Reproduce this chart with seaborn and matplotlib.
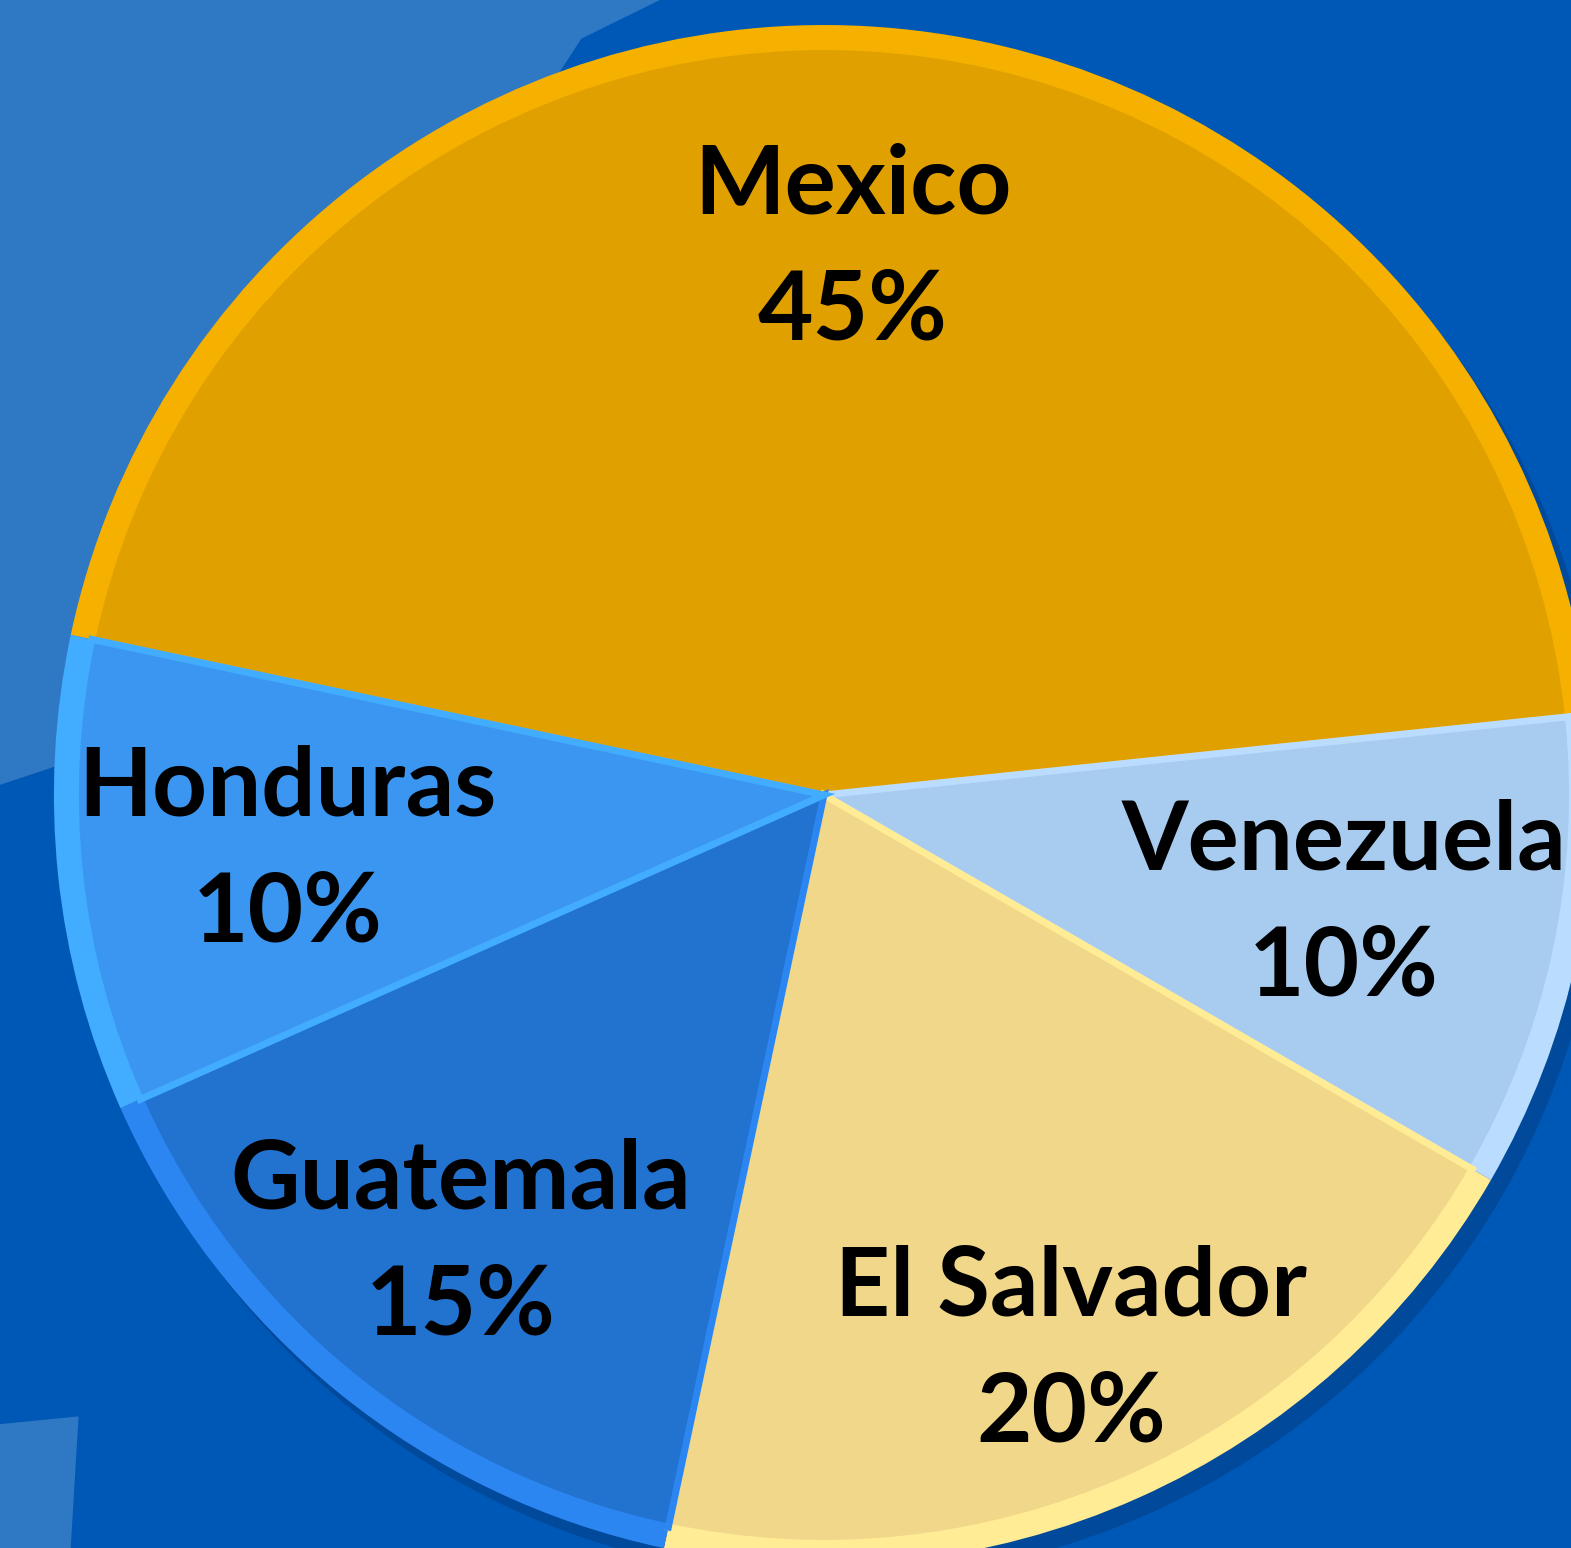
import seaborn as sns
import matplotlib.pyplot as plt
from matplotlib.patches import Polygon
import numpy as np

# Data
countries = ['Mexico', 'Venezuela', 'El Salvador', 'Guatemala', 'Honduras']
shares = [45, 10, 20, 15, 10]

# Colours: main face and lighter bevel rim for each slice
face_colors = ['#E0A000', '#A8CBF0', '#F0D78A', '#2272D0', '#3A96F0']
rim_colors = ['#F5B000', '#BADDFF', '#FFEC95', '#2C86F2', '#42ACFF']
label_r = [0.71, 0.69, 0.79, 0.75, 0.70]

sns.set_theme(style='white')
plt.rcParams['font.family'] = ['Lato', 'DejaVu Sans']

fig = plt.figure(figsize=(15.71, 15.48), dpi=100)
fig.patch.set_facecolor('#0058B6')

# lighter "map" patches in the background
fig.patches.append(Polygon([[0, 1], [0.42, 1], [0.37, 0.975], [0.08, 0.52],
                            [0.0, 0.493]], closed=True, transform=fig.transFigure,
                           facecolor='#2F78C4', edgecolor='none', zorder=-5))
fig.patches.append(Polygon([[0, 0.08], [0.05, 0.085], [0.045, 0.0], [0, 0]],
                           closed=True, transform=fig.transFigure,
                           facecolor='#2F78C4', edgecolor='none', zorder=-5))

ax = fig.add_axes([0, 0, 1, 1])
ax.set_facecolor('none')
ax.set_zorder(1)

# soft shadow
ax.pie(shares, radius=1.0, colors=['#00408A'] * len(shares), center=(0.015, -0.02),
       startangle=168, counterclock=False, wedgeprops=dict(linewidth=0, alpha=0.6))

# rim layer
ax.pie(shares, radius=1.0, colors=rim_colors, startangle=168, counterclock=False,
       wedgeprops=dict(linewidth=0))
# face layer
wedges, _ = ax.pie(shares, radius=0.972, colors=face_colors, startangle=168,
                   counterclock=False, wedgeprops=dict(linewidth=0))
for w, rc in zip(wedges, rim_colors):
    w.set_edgecolor(rc)
    w.set_linewidth(5)

for w, name, val, r in zip(wedges, countries, shares, label_r):
    mid = np.deg2rad((w.theta1 + w.theta2) / 2)
    ax.text(r * np.cos(mid), r * np.sin(mid), f'{name}\n{val}%', ha='center',
            va='center', fontsize=69, fontweight='bold', color='black',
            linespacing=1.55)

ax.set_xlim(-1.070, 0.970)
ax.set_ylim(-0.978, 1.0325)
ax.set_aspect('auto')
ax.axis('off')

plt.savefig('out.png', dpi=100, facecolor=fig.get_facecolor())
